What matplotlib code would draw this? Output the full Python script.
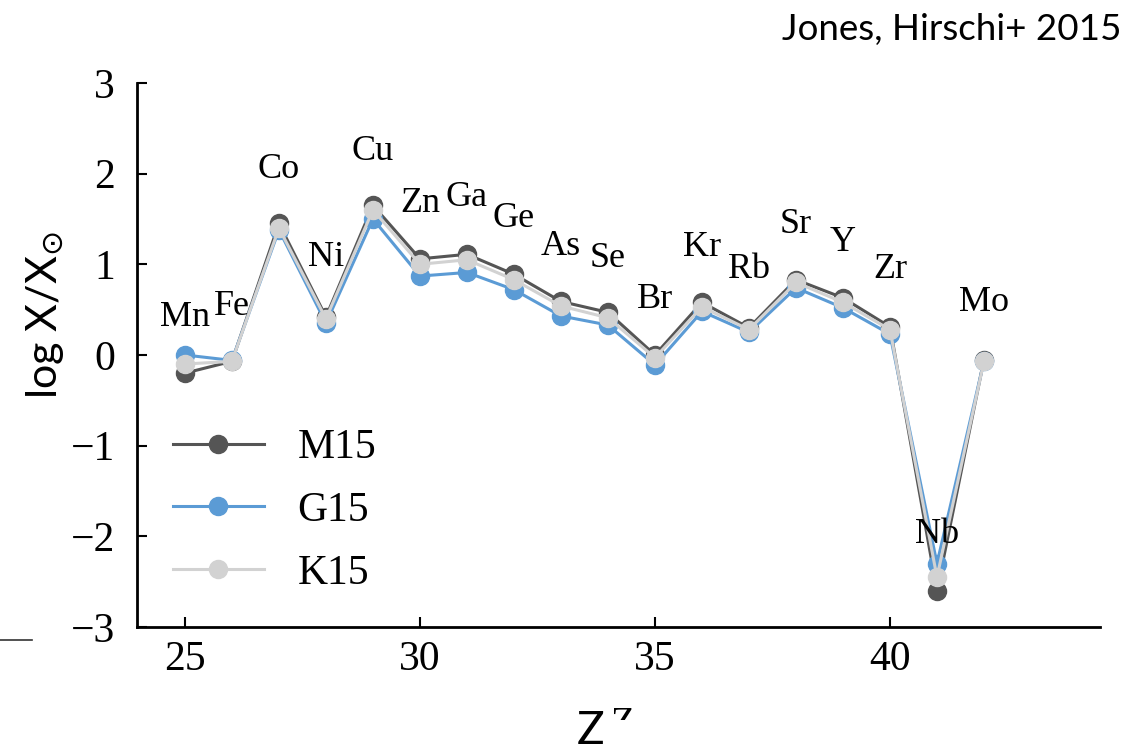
import numpy as np
import matplotlib.pyplot as plt
from matplotlib.lines import Line2D
from matplotlib.patches import Rectangle

# atomic number and element name
Z = [25, 26, 27, 28, 29, 30, 31, 32, 33, 34, 35, 36, 37, 38, 39, 40, 41, 42]
elements = ['Mn', 'Fe', 'Co', 'Ni', 'Cu', 'Zn', 'Ga', 'Ge', 'As', 'Se',
            'Br', 'Kr', 'Rb', 'Sr', 'Y', 'Zr', 'Nb', 'Mo']

# log X/X_sun for the three models
m15 = [-0.20, -0.07, 1.45, 0.42, 1.65, 1.06, 1.11, 0.89, 0.59, 0.47,
       0.00, 0.58, 0.30, 0.83, 0.63, 0.31, -2.60, -0.05]
g15 = [0.00, -0.06, 1.38, 0.35, 1.50, 0.87, 0.91, 0.72, 0.43, 0.33,
       -0.11, 0.48, 0.25, 0.74, 0.52, 0.23, -2.30, -0.07]
k15 = [-0.10, -0.07, 1.40, 0.40, 1.60, 1.00, 1.05, 0.83, 0.54, 0.41,
       -0.03, 0.53, 0.28, 0.80, 0.58, 0.28, -2.45, -0.07]

# vertical placement of the element names
label_y = [0.41, 0.53, 2.05, 1.08, 2.24, 1.67, 1.74, 1.50, 1.20, 1.06,
           0.61, 1.19, 0.94, 1.44, 1.24, 0.94, -1.98, 0.58]

SERIF = 'Liberation Serif'
SANS = 'Lato'

fig = plt.figure(figsize=(11.37, 7.47), dpi=100)
ax = fig.add_axes([0.1205, 0.1606, 0.8470, 0.7284])

series = [(m15, 'M15', '#555555'),
          (g15, 'G15', '#5b9bd5'),
          (k15, 'K15', '#d2d2d2')]
for vals, name, col in series:
    ax.plot(Z, vals, '-o', color=col, lw=2.2, markersize=13, label=name)

for z, el, ly in zip(Z, elements, label_y):
    ax.text(z, ly, el, ha='center', va='center', fontsize=26, family=SERIF)

ax.set_xlim(23.98, 44.47)
ax.set_ylim(-3, 3)
ax.set_xticks([25, 30, 35, 40])
ax.set_yticks([-3, -2, -1, 0, 1, 2, 3])
ax.set_yticklabels(['\u22123', '\u22122', '\u22121', '0', '1', '2', '3'])

for s in ['top', 'right']:
    ax.spines[s].set_visible(False)
for s in ['left', 'bottom']:
    ax.spines[s].set_linewidth(2.0)

ax.tick_params(direction='in', length=7, width=1.5, labelsize=30)
ax.tick_params(axis='x', pad=10)
ax.tick_params(axis='y', pad=16)
for lab in ax.get_xticklabels() + ax.get_yticklabels():
    lab.set_family(SERIF)

ax.set_ylabel(r'log X/X$_{\odot}$', fontsize=31, family=SANS)
ax.yaxis.set_label_coords(-0.074, 0.574)

leg = ax.legend(loc='center left', bbox_to_anchor=(0.037, 0.214),
                frameon=False, fontsize=30, handlelength=2.2,
                handletextpad=0.8, labelspacing=0.58,
                borderpad=0, borderaxespad=0)
for t in leg.get_texts():
    t.set_family(SERIF)

fig.text(0.986, 0.96, 'Jones, Hirschi+ 2015', ha='right', va='center',
         fontsize=26.5, family=SANS)

# leftover pieces of the original x label
fig.text(0.547, 0.030, 'Z', ha='center', va='center', fontsize=28, family=SERIF)
fig.patches.append(Rectangle((0.530, 0.0), 0.045, 0.036, transform=fig.transFigure,
                             facecolor='white', edgecolor='none', zorder=5))
fig.text(0.519, 0.022, 'Z', ha='center', va='center', fontsize=33, family=SANS,
         zorder=6)
fig.add_artist(Line2D([0.0, 0.028], [0.143, 0.143], transform=fig.transFigure,
                      color='#333333', lw=1.2))

fig.savefig('out.png', dpi=100)
